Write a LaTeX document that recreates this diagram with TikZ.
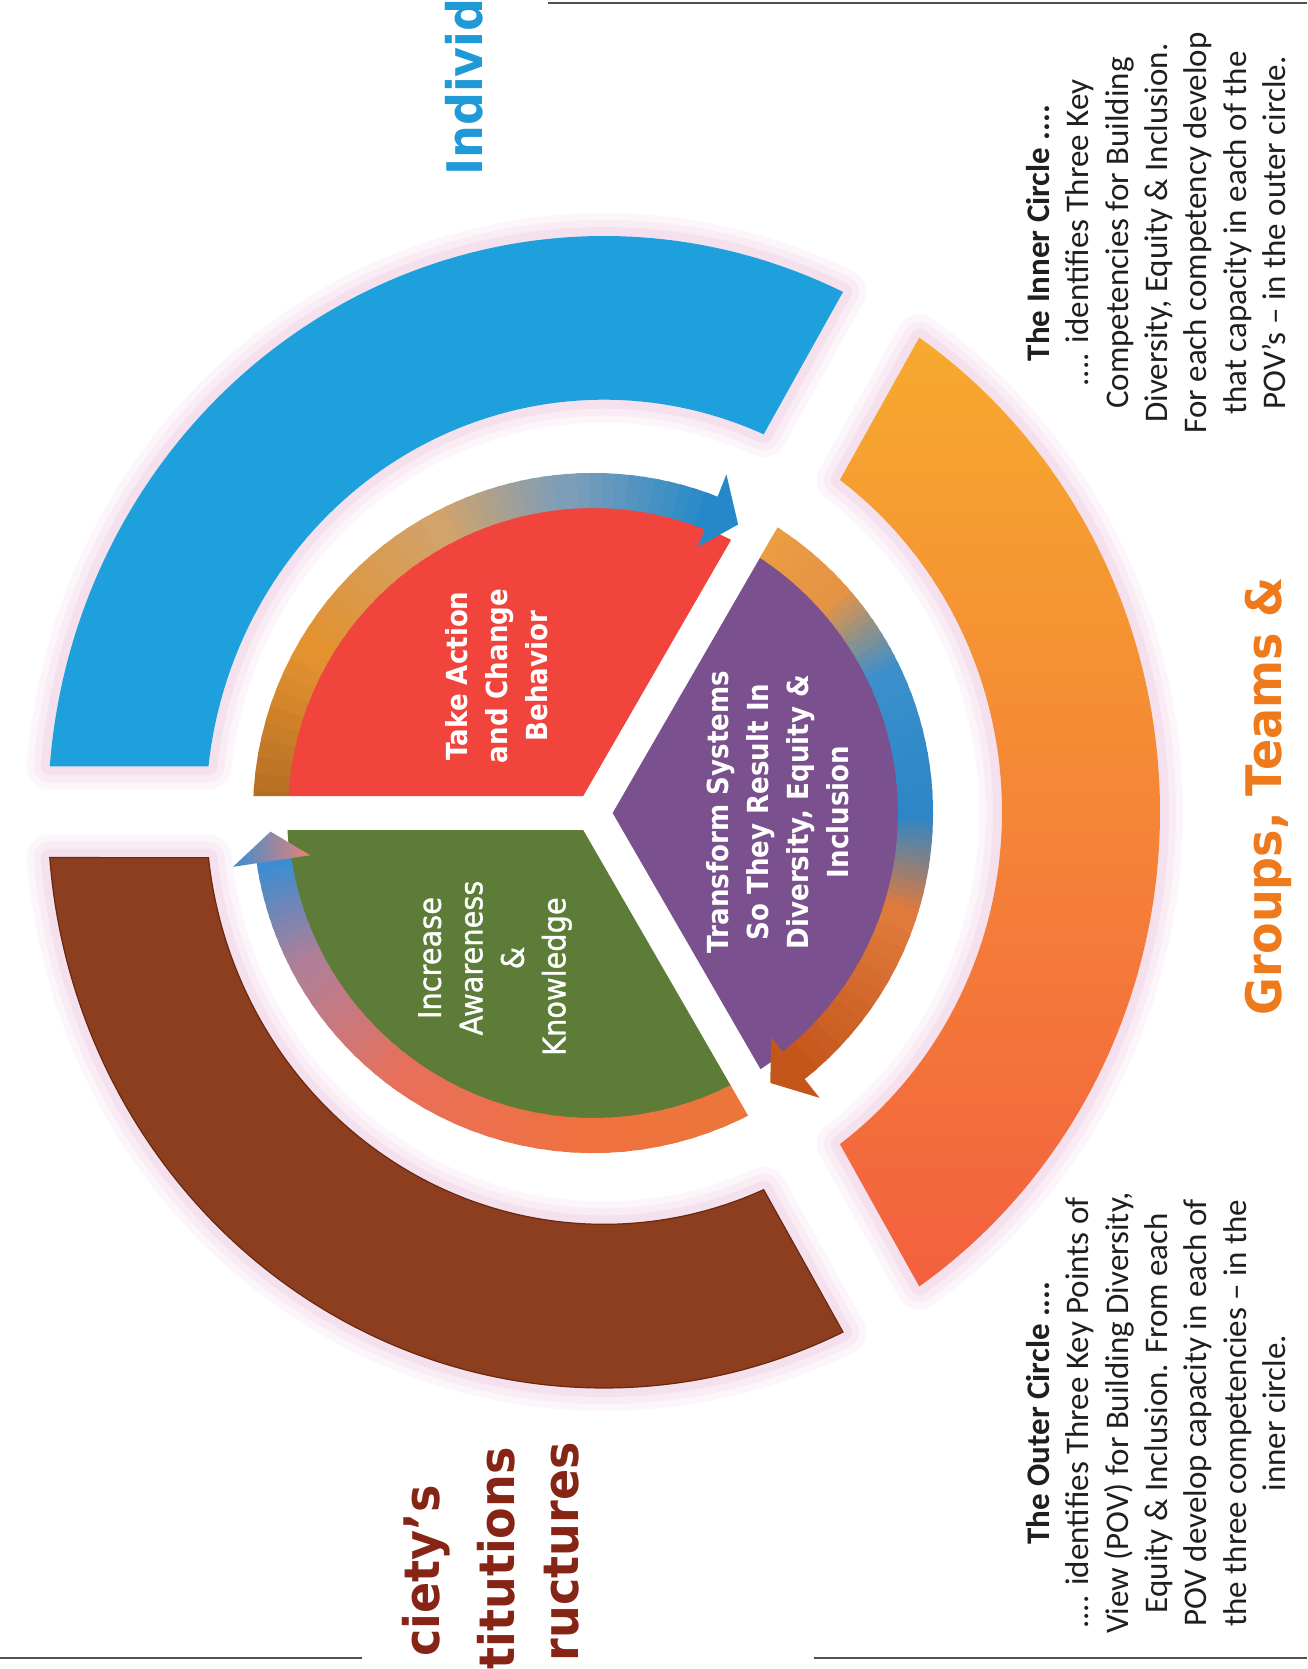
\documentclass[tikz,border=0pt]{standalone}
\usepackage{fontspec}
\setmainfont{Carlito}
\newfontfamily\headfont{DejaVu Sans}
\newfontfamily\medfont[FakeBold=1.2]{DejaVu Sans}
\definecolor{ringblue}{HTML}{1EA0DC}
\definecolor{ringbrown}{HTML}{8C3E1E}
\definecolor{ringbrownd}{HTML}{6A2810}
\definecolor{orangetop}{HTML}{F6AA2E}
\definecolor{orangemid}{HTML}{F68B38}
\definecolor{orangebot}{HTML}{F3603F}
\definecolor{secred}{HTML}{F0443C}
\definecolor{secgreen}{HTML}{5C7C37}
\definecolor{secpurple}{HTML}{7A508E}
\definecolor{glow}{HTML}{E2A4CC}
\definecolor{indblue}{HTML}{1F9AD6}
\definecolor{grporange}{HTML}{EE7A1C}
\definecolor{socred}{HTML}{862416}
\definecolor{rulegray}{HTML}{505050}
\definecolor{rA}{HTML}{A8641F}
\definecolor{rB}{HTML}{E3922F}
\definecolor{rC}{HTML}{D2A36A}
\definecolor{rD}{HTML}{7E9EB8}
\definecolor{rE}{HTML}{2589C9}
\definecolor{gA}{HTML}{E9783A}
\definecolor{gB}{HTML}{F0713E}
\definecolor{gC}{HTML}{E8705A}
\definecolor{gD}{HTML}{B27E96}
\definecolor{gE}{HTML}{3C8DD2}
\definecolor{gF}{HTML}{E98276}
\definecolor{pA}{HTML}{EDA040}
\definecolor{pB}{HTML}{E59445}
\definecolor{pC}{HTML}{3A8FCC}
\definecolor{pD}{HTML}{2E86C6}
\definecolor{pE}{HTML}{E07A3C}
\definecolor{pF}{HTML}{C4561C}
\newcommand\bandpiece[4]{%
  \foreach \k in {0,...,11}{%
    \pgfmathsetmacro\bpa{#1+((#2)-(#1))*\k/12}%
    \pgfmathsetmacro\bpb{#1+((#2)-(#1))*(\k+1.4)/12}%
    \pgfmathtruncatemacro\bpp{100-\k*100/11}%
    \fill[color=#3!\bpp!#4] (\bpa:305) arc[start angle=\bpa, end angle=\bpb, radius=305] -- (\bpb:340) arc[start angle=\bpb, end angle=\bpa, radius=340] -- cycle;
  }%
}
\newcommand\segblue{(64.54:556) arc[start angle=64.54, end angle=175.46, radius=556] -- (173.65:398) arc[start angle=173.65, end angle=66.35, radius=398] -- cycle}
\newcommand\segorange{(-55.46:556) arc[start angle=-55.46, end angle=55.46, radius=556] -- (53.65:398) arc[start angle=53.65, end angle=-53.65, radius=398] -- cycle}
\newcommand\segbrown{(184.54:556) arc[start angle=184.54, end angle=295.46, radius=556] -- (293.65:398) arc[start angle=293.65, end angle=186.35, radius=398] -- cycle}
\begin{document}
\begin{tikzpicture}[x=1pt,y=1pt,
  bodytext/.style={rotate=90, align=center, inner sep=0pt, text=black!88, font=\fontsize{33}{39.3}\selectfont},
  headtext/.style={rotate=90, xscale=0.94, inner sep=0pt, font=\headfont\bfseries\fontsize{49}{52}\selectfont},
  sectext/.style={rotate=90, xscale=0.9, align=center, inner sep=0pt, text=white, font=\headfont\bfseries\fontsize{29}{40}\selectfont},
  sectextlight/.style={rotate=90, xscale=0.93, align=center, inner sep=0pt, text=white, font=\medfont\fontsize{31}{41.5}\selectfont},
  rulestyle/.style={draw=rulegray, line width=2.5pt},
  glowline/.style={draw=glow, line join=round}]
\useasboundingbox (0,0) rectangle (1307,-1669);
\clip (0,0) rectangle (1307,-1669);
\fill[white] (0,0) rectangle (1307,-1669);
% outer ring
\begin{scope}[shift={(604,-812)}, yscale=1.036]
  \foreach \w/\o in {46/0.09, 32/0.11, 18/0.14}{
    \draw[glowline, line width=\w, opacity=\o] \segblue;
    \draw[glowline, line width=\w, opacity=\o] \segorange;
    \draw[glowline, line width=\w, opacity=\o] \segbrown;
  }
  \fill[ringblue] \segblue;
  \shade[top color=orangetop, middle color=orangemid, bottom color=orangebot] \segorange;
  \fill[ringbrown] \segbrown;
  \draw[ringbrownd, line width=1.2] \segbrown;
\end{scope}
% inner circle
\begin{scope}[shift={(593,-813)}]
  % red sector
  \begin{scope}
    \clip (120:19.63) -- (62.32:420) arc[start angle=62.32, end angle=177.68, radius=420] -- cycle;
    \fill[secred] (0,0) circle[radius=306];
    \bandpiece{185}{150}{rA}{rB}
    \bandpiece{150}{118}{rB}{rC}
    \bandpiece{118}{95}{rC}{rD}
    \bandpiece{95}{68.5}{rD}{rE}
    \fill[rE] (68.5:286) -- (63.3:323) -- (68.5:364) -- cycle;
  \end{scope}
  % purple sector
  \begin{scope}
    \clip (0:19.63) -- (-57.68:420) arc[start angle=-57.68, end angle=57.68, radius=420] -- cycle;
    \fill[secpurple] (0,0) circle[radius=306];
    \bandpiece{62}{42}{pA}{pB}
    \bandpiece{42}{25}{pB}{pC}
    \bandpiece{25}{0}{pC}{pD}
    \bandpiece{0}{-18}{pD}{pE}
    \bandpiece{-18}{-51.5}{pE}{pF}
    \fill[pF] (-51.5:286) -- (-56.7:323) -- (-51.5:364) -- cycle;
  \end{scope}
  % green sector
  \begin{scope}
    \clip (240:19.63) -- (182.32:420) arc[start angle=182.32, end angle=297.68, radius=420] -- cycle;
    \fill[secgreen] (0,0) circle[radius=306];
    \bandpiece{305}{270}{gA}{gB}
    \bandpiece{270}{235}{gB}{gC}
    \bandpiece{235}{208}{gC}{gD}
    \bandpiece{208}{188.5}{gD}{gE}
    \shade[left color=gE, right color=gF] (188.5:286) -- (183.3:323) -- (188.5:364) -- cycle;
  \end{scope}
\end{scope}
% sector texts
\node[sectext] (takeaction) at (497,-676) {Take Action\\and Change\\Behavior};
\node[sectext] (transform) at (778,-812) {Transform Systems\\So They Result In\\Diversity, Equity \&\\Inclusion};
\node[sectextlight] (awareness) at (495,-958) {Increase\\Awareness\\\&\\Knowledge\hspace*{40pt}};
% headings
\node[headtext, text=indblue, anchor=west] (individ) at (464,-176) {Individ};
\node[headtext, text=grporange] (groups) at (1268,-796) {Groups, Teams \&};
\node[headtext, text=socred, anchor=east] (society) at (426,-1485) {ciety’s};
\node[headtext, text=socred, anchor=east] (institutions) at (496,-1447) {titutions};
\node[headtext, text=socred, anchor=east] (structures) at (562,-1442) {ructures};
% notes
\node[bodytext] (innernote) at (1156,-233) {\textbf{The Inner Circle ....}\\.... identifies Three Key\\Competencies for Building\\Diversity, Equity \& Inclusion.\\For each competency develop\\that capacity in each of the\\POV’s – in the outer circle.};
\node[bodytext] (outernote) at (1156,-1413) {\textbf{The Outer Circle ....}\\.... identifies Three Key Points of\\View (POV) for Building Diversity,\\Equity \& Inclusion. From each\\POV develop capacity in each of\\the three competencies – in the\\inner circle.};
% rules
\draw[rulestyle] (548,-3) -- (1307,-3);
\draw[rulestyle] (0,-1658) -- (362,-1658);
\draw[rulestyle] (814,-1658) -- (1307,-1658);
\end{tikzpicture}
\end{document}
